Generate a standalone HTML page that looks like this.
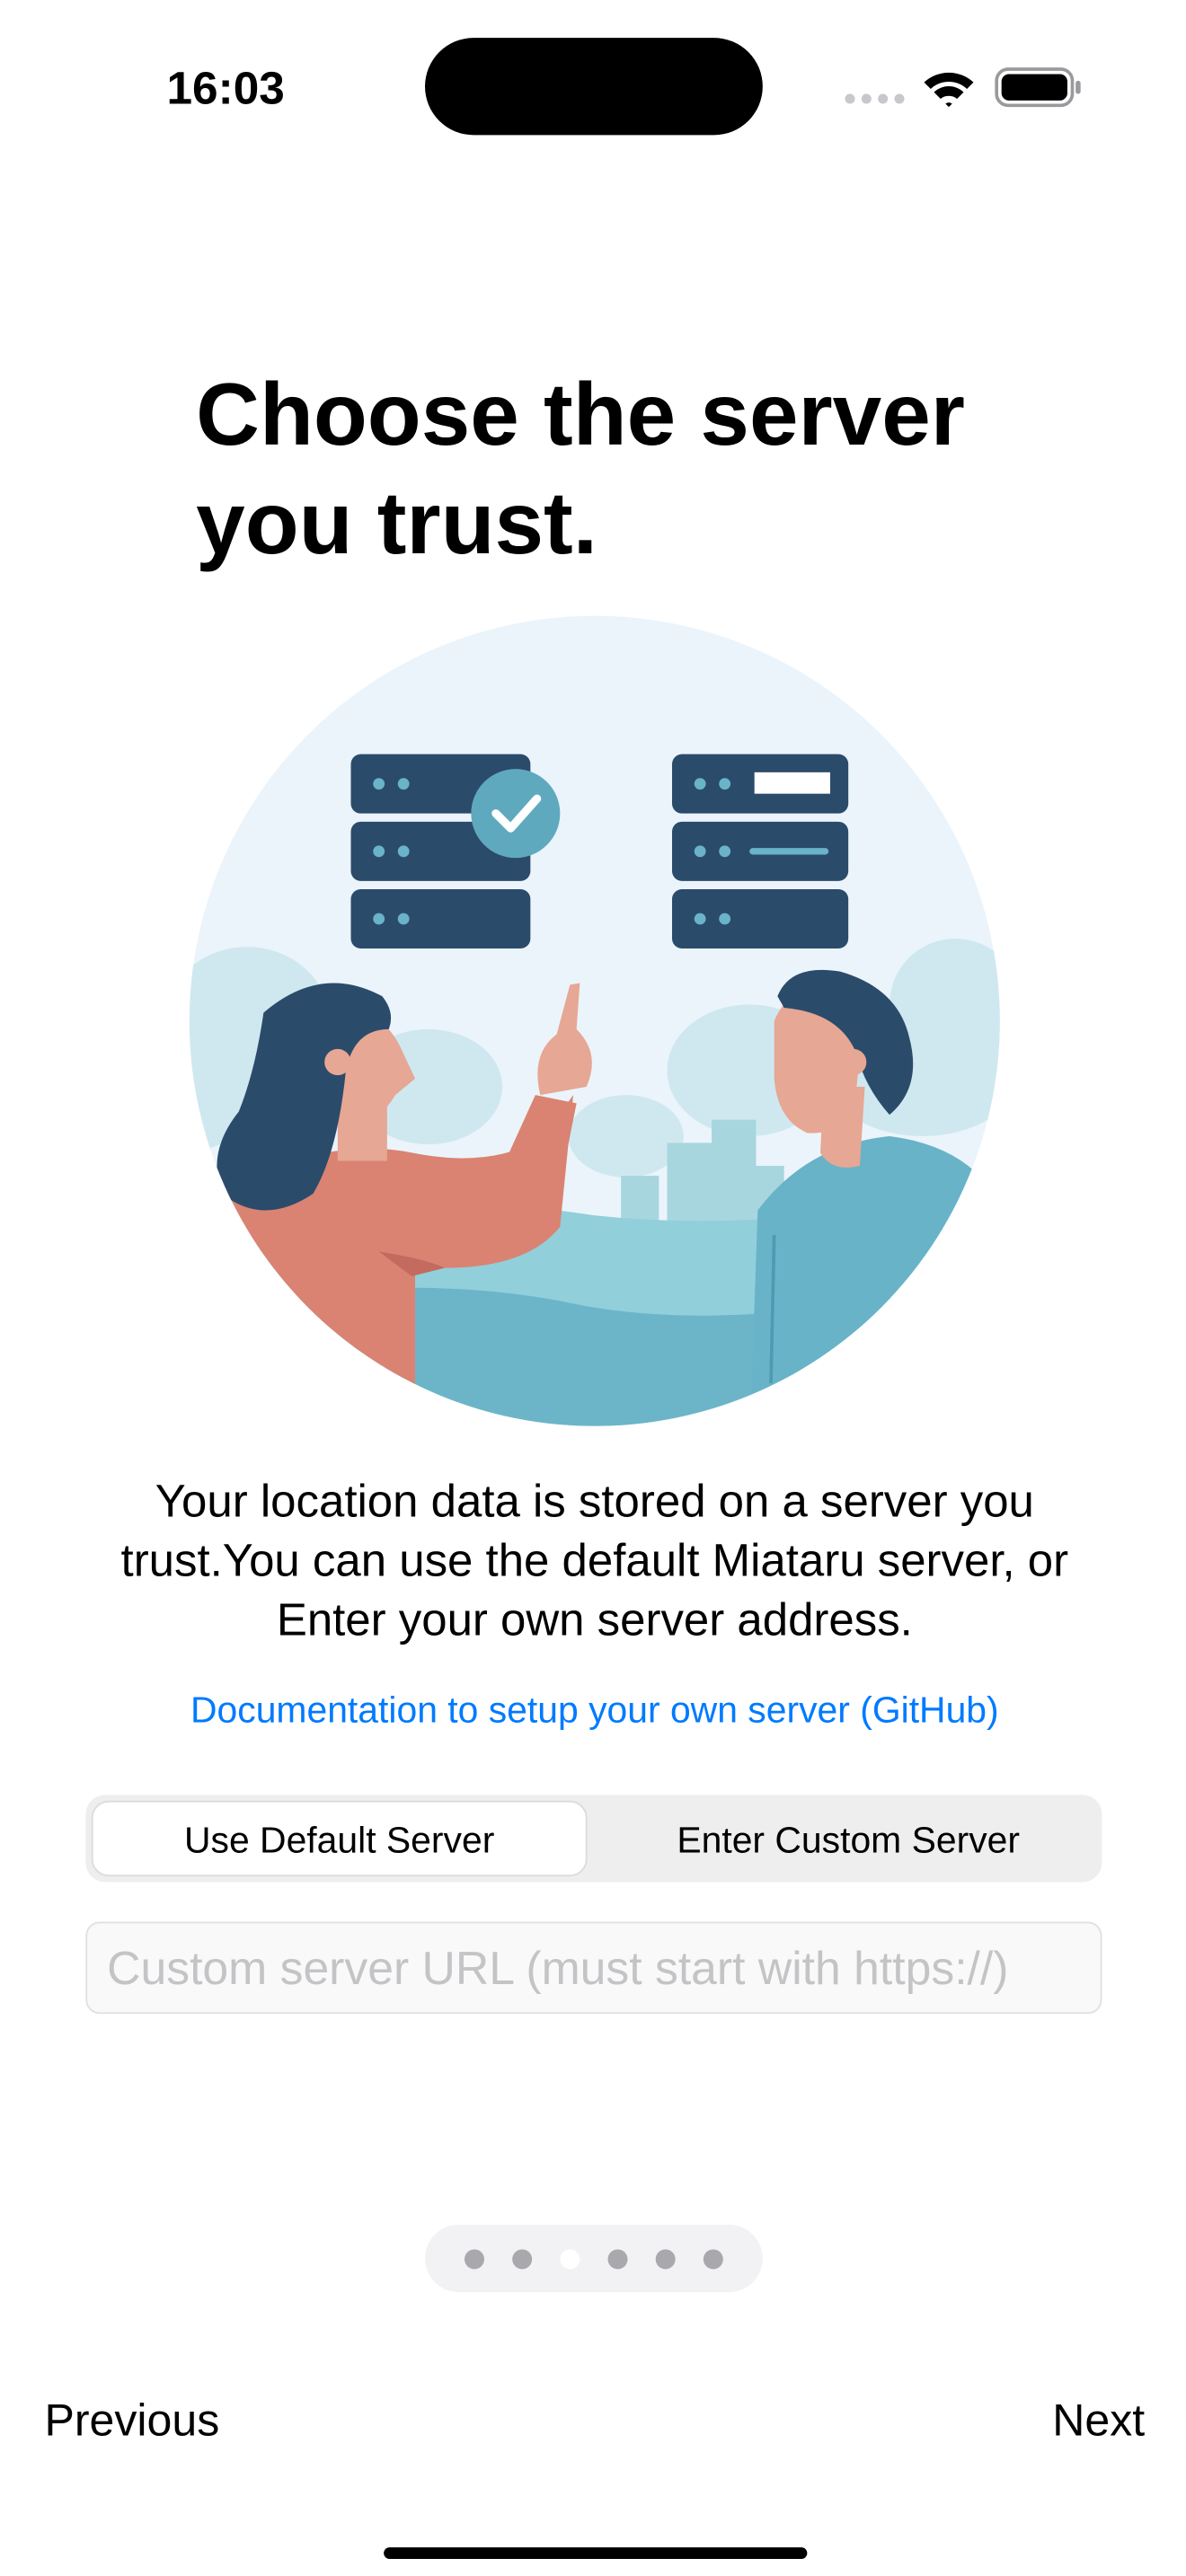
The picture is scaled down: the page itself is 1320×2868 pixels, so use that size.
<!DOCTYPE html>
<html><head><meta charset="utf-8"><style>
html,body{margin:0;padding:0;background:#fff}
svg{display:block}
text{font-family:"Liberation Sans",sans-serif}
</style></head><body>
<svg width="1320" height="2868" viewBox="0 0 720 1564.36" xmlns="http://www.w3.org/2000/svg">
<rect width="720" height="1565" fill="#fff"/>
<text x="137" y="63" font-size="28" font-weight="700" text-anchor="middle" fill="#000">16:03</text>
<rect x="258" y="23" width="205" height="59" rx="29.5" fill="#000"/>
<g fill="#c7c7cc"><circle cx="516" cy="60" r="3"/><circle cx="526" cy="60" r="3"/><circle cx="536" cy="60" r="3"/><circle cx="546" cy="60" r="3"/></g>
<path d="M561 50 A22 22 0 0 1 591 50 L587 54 A16 16 0 0 0 565 54Z M567 56 A13 13 0 0 1 585 56 L581 60 A8 8 0 0 0 571 60Z M574 63 L576 65 L578 63 A3 3 0 0 0 574 63Z" fill="#000"/>
<rect x="605" y="42" width="46" height="22" rx="7" fill="none" stroke="#9a9a9e" stroke-width="2"/>
<rect x="608" y="45" width="40" height="16" rx="4.5" fill="#000"/>
<rect x="653" y="49" width="3" height="8" rx="1.5" fill="#9a9a9e"/>
<text x="119" y="270" font-size="53.5" font-weight="700" fill="#000">Choose the server</text>
<text x="119" y="336" font-size="53.5" font-weight="700" fill="#000">you trust.</text>
<defs><clipPath id="c"><circle cx="361" cy="620" r="246"/></clipPath></defs>
<g clip-path="url(#c)">
<rect x="100" y="370" width="520" height="510" fill="#ebf4fb"/>
<g fill="#cfe8f0">
<ellipse cx="150" cy="620" rx="50" ry="45"/><ellipse cx="105" cy="660" rx="60" ry="40"/>
<ellipse cx="260" cy="660" rx="45" ry="35"/><ellipse cx="455" cy="650" rx="50" ry="40"/>
<ellipse cx="580" cy="610" rx="40" ry="40"/><ellipse cx="560" cy="650" rx="60" ry="40"/>
<ellipse cx="380" cy="690" rx="35" ry="25"/>
</g>
<g fill="#a8d6df"><rect x="377" y="714" width="23" height="30"/><rect x="405" y="694" width="28" height="50"/><rect x="432" y="680" width="27" height="64"/><rect x="458" y="708" width="18" height="36"/></g>
<path d="M100 760 Q250 720 360 738 Q470 750 620 720 L620 880 L100 880Z" fill="#91cfdb"/>
<path d="M100 800 Q230 770 340 790 Q450 815 620 770 L620 880 L100 880Z" fill="#6cb5c9"/>
<path d="M140 720 Q200 690 250 700 Q300 710 330 690 L348 665 L340 745 Q320 770 270 770 L252 770 L252 880 L100 880 L100 760Z" fill="#da8372"/>
<path d="M300 720 L325 665 L350 670 L335 745Z" fill="#da8372"/>
<path d="M328 665 Q322 640 338 628 L346 598 L352 597 L350 625 Q365 640 356 660Z" fill="#e6a794"/>
<rect x="205" y="660" width="30" height="45" fill="#e6a794"/>
<path d="M195 615 Q230 605 245 640 L252 655 L240 665 Q225 690 205 675Z" fill="#e6a794"/>
<path d="M160 615 Q195 585 232 605 Q240 615 236 625 Q215 625 210 650 Q205 700 190 725 Q160 745 135 725 Q125 700 145 675 Q155 650 160 615Z" fill="#2b4b6b"/>
<circle cx="205" cy="645" r="8" fill="#e6a794"/>
<path d="M230 760 Q260 765 270 770 L250 775Z" fill="#c26b5e"/>
<path d="M460 735 Q490 695 540 690 Q580 695 600 720 L620 880 L455 880Z" fill="#68b3c8"/>
<path d="M500 660 L525 660 L522 708 Q505 712 498 700Z" fill="#e6a794"/>
<path d="M470 620 Q480 595 512 600 Q525 620 520 660 Q515 690 490 688 Q472 680 470 655Z" fill="#e6a794"/>
<path d="M472 605 Q480 585 510 590 Q545 600 552 630 Q560 660 540 677 Q525 660 520 640 Q510 615 476 612Z" fill="#2b4b6b"/>
<circle cx="518" cy="645" r="8" fill="#e6a794"/>
<path d="M470 750 L468 840" stroke="#4f9ab0" stroke-width="2" fill="none"/>
</g>
<g fill="#2b4b6b">
<rect x="213" y="458" width="109" height="36" rx="6"/><rect x="213" y="499" width="109" height="36" rx="6"/><rect x="213" y="540" width="109" height="36" rx="6"/>
<rect x="408" y="458" width="107" height="36" rx="6"/><rect x="408" y="499" width="107" height="36" rx="6"/><rect x="408" y="540" width="107" height="36" rx="6"/>
</g>
<g fill="#6ab3c8">
<circle cx="230" cy="476" r="3.5"/><circle cx="245" cy="476" r="3.5"/>
<circle cx="230" cy="517" r="3.5"/><circle cx="245" cy="517" r="3.5"/>
<circle cx="230" cy="558" r="3.5"/><circle cx="245" cy="558" r="3.5"/>
<circle cx="425" cy="476" r="3.5"/><circle cx="440" cy="476" r="3.5"/>
<circle cx="425" cy="517" r="3.5"/><circle cx="440" cy="517" r="3.5"/>
<circle cx="425" cy="558" r="3.5"/><circle cx="440" cy="558" r="3.5"/>
<rect x="455" y="515" width="48" height="4" rx="2"/>
</g>
<rect x="458" y="469" width="46" height="13" fill="#fff"/>
<circle cx="313" cy="494" r="27" fill="#5fa9bf"/>
<path d="M301 494 L310 503 L326 485" stroke="#fff" stroke-width="5" fill="none" stroke-linecap="round" stroke-linejoin="round"/>
<g font-size="27.8" fill="#000" text-anchor="middle">
<text x="361" y="921">Your location data is stored on a server you</text>
<text x="361" y="957">trust.You can use the default Miataru server, or</text>
<text x="361" y="993">Enter your own server address.</text>
</g>
<text x="361" y="1046" font-size="22.3" fill="#007aff" text-anchor="middle">Documentation to setup your own server (GitHub)</text>
<rect x="52" y="1090" width="617" height="53" rx="12" fill="#eeeeef"/>
<rect x="56" y="1094" width="300" height="45" rx="10" fill="#fff" stroke="#dcdce0" stroke-width="1"/>
<text x="206" y="1125" font-size="22.3" fill="#000" text-anchor="middle">Use Default Server</text>
<text x="515" y="1125" font-size="22.3" fill="#000" text-anchor="middle">Enter Custom Server</text>
<rect x="52.5" y="1167.5" width="616" height="55" rx="8" fill="#f9f9f9" stroke="#e0e0e2" stroke-width="1"/>
<text x="65" y="1205" font-size="28.2" fill="#c4c4c7">Custom server URL (must start with https://)</text>
<rect x="258" y="1351" width="205" height="41" rx="20.5" fill="#f2f2f4"/>
<g fill="#a9a9ad"><circle cx="288" cy="1372" r="6"/><circle cx="317" cy="1372" r="6"/><circle cx="375" cy="1372" r="6"/><circle cx="404" cy="1372" r="6"/><circle cx="433" cy="1372" r="6"/></g>
<circle cx="346" cy="1372" r="6" fill="#fff"/>
<text x="27" y="1479" font-size="27.3" fill="#000">Previous</text>
<text x="695" y="1479" font-size="27.3" fill="#000" text-anchor="end">Next</text>
<rect x="233" y="1547" width="257" height="7" rx="3.5" fill="#000"/>
</svg>
</body></html>
